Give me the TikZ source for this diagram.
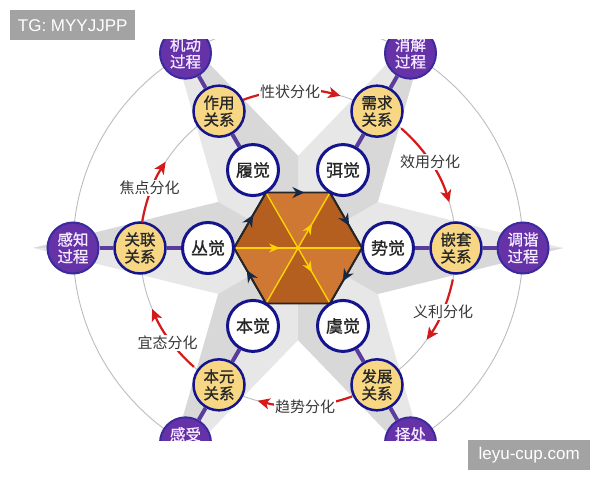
\documentclass[tikz,border=0pt]{standalone}
\usepackage{fontspec}
\setmainfont{Liberation Sans}
\newfontfamily\cjk{Noto Sans CJK SC}
\newfontfamily\cjkb[FakeBold=1]{Noto Sans CJK SC}
\usetikzlibrary{arrows.meta,calc,decorations.markings}
\definecolor{pfill}{HTML}{6532A8}
\definecolor{pborder}{HTML}{3B2A9E}
\definecolor{ptext}{HTML}{F4EAFF}
\definecolor{yfill}{HTML}{F7D684}
\definecolor{navyb}{HTML}{14148C}
\definecolor{spokec}{HTML}{5A3C9C}
\definecolor{starl}{HTML}{E7E7E7}
\definecolor{stard}{HTML}{D8D8D8}
\definecolor{arcg}{HTML}{BDBDBD}
\definecolor{redc}{HTML}{D41A1A}
\definecolor{hexf}{HTML}{C46A26}
\definecolor{hexd}{HTML}{B45E20}
\definecolor{hexl}{HTML}{CF7834}
\definecolor{ylc}{HTML}{FFD200}
\definecolor{arrn}{HTML}{152848}
\definecolor{wmgray}{HTML}{A3A3A3}
\definecolor{labc}{HTML}{383838}
\begin{document}
\begin{tikzpicture}[x=1pt,y=1pt,
  ringnode/.style={circle,minimum size=51pt,inner sep=0pt,align=center},
  pnode/.style={ringnode,fill=pfill,draw=pborder,line width=2pt,text=ptext,font=\cjkb\fontsize{15.5}{17}\selectfont},
  ynode/.style={ringnode,fill=yfill,draw=navyb,line width=2.5pt,text=black!85,font=\cjkb\fontsize{15.5}{17}\selectfont},
  wnode/.style={ringnode,fill=white,draw=navyb,line width=3pt,text=black!85,font=\cjkb\fontsize{17}{17}\selectfont},
  spoke/.style={draw=spokec,line width=4pt},
  thinarc/.style={draw=arcg,line width=0.9pt},
  redarr/.style={draw=redc,line width=2.2pt,-{Stealth[length=12pt,width=11pt,inset=3pt]}},
  arclabel/.style={fill=white,inner sep=1pt,text=labc,font=\cjk\fontsize{15}{15}\selectfont},
  hexedge/.style={draw=black!85,line width=1.8pt},
  yline/.style={draw=ylc,line width=1.4pt},
  ymark/.style={postaction={decorate},decoration={markings,mark=at position #1 with {\arrow{Stealth[length=11pt,width=9pt,color=ylc]}}}},
  emark/.style={postaction={decorate},decoration={markings,mark=at position 0.6 with {\arrow{Stealth[length=12pt,width=11pt,color=arrn]}}}},
  wmbox/.style={fill=wmgray,text=white,inner sep=0pt,font=\fontsize{17}{17}\selectfont}
]
\useasboundingbox (0,0) rectangle (600,480);
\fill[white] (0,0) rectangle (600,480);
\coordinate (C) at (298,232);
\begin{scope}
\clip (0,40) rectangle (600,440);
% star
\fill[starl] ($(C)+(0:265)$) -- ($(C)+(30:92)$) -- ($(C)+(60:265)$) -- ($(C)+(90:92)$) -- ($(C)+(120:265)$) -- ($(C)+(150:92)$) -- ($(C)+(180:265)$) -- ($(C)+(210:92)$) -- ($(C)+(240:265)$) -- ($(C)+(270:92)$) -- ($(C)+(300:265)$) -- ($(C)+(330:92)$) -- cycle;
\foreach \a in {0,60,...,300} \fill[stard] (C) -- ($(C)+(\a:265)$) -- ($(C)+(\a-30:92)$) -- cycle;
% circles
\draw[thinarc] (C) circle[radius=225];
\draw[thinarc] (C) circle[radius=158];
% hexagon
\foreach \k in {0,...,5} \coordinate (h\k) at ($(C)+(60*\k:64)$);
\fill[hexf] (h0)--(h1)--(h2)--(h3)--(h4)--(h5)--cycle;
\fill[hexd] (C)--(h0)--(h1)--cycle;
\fill[hexl] (C)--(h1)--(h2)--cycle;
\fill[hexd] (C)--(h2)--(h3)--cycle;
\fill[hexl] (C)--(h3)--(h4)--cycle;
\fill[hexd] (C)--(h4)--(h5)--cycle;
\fill[hexl] (C)--(h5)--(h0)--cycle;
\draw[yline,ymark=0.36] (h3) -- (h0);
\draw[yline,ymark=0.72] (h4) -- (h1);
\draw[yline,ymark=0.72] (h2) -- (h5);
\draw[hexedge] (h0)--(h1)--(h2)--(h3)--(h4)--(h5)--cycle;
\draw[hexedge,emark] (h2) -- (h1);
\draw[hexedge,emark] (h1) -- (h0);
\draw[hexedge,emark] (h0) -- (h5);
\draw[hexedge,emark] (h4) -- (h3);
\draw[hexedge,emark] (h3) -- (h2);
% nodes and spokes
\foreach \a/\n/\wt/\yt/\pp in {120/a/履觉/作用\\关系/机动\\过程, 60/b/弭觉/需求\\关系/消解\\过程, 0/c/势觉/嵌套\\关系/调谐\\过程, 300/d/虞觉/发展\\关系/择处\\过程, 240/e/本觉/本元\\关系/感受\\过程, 180/f/丛觉/关联\\关系/感知\\过程}{
  \node[wnode] (W\n) at ($(C)+(\a:90)$) {\wt};
  \node[ynode] (Y\n) at ($(C)+(\a:158)$) {\yt};
  \node[pnode] (P\n) at ($(C)+(\a:225)$) {\pp};
  \draw[spoke] (P\n) -- (Y\n) -- (W\n);
}
% red arrows
\coordinate (s1) at ($(C)+(170.7:158)$);
\coordinate (s2) at ($(C)+(110.4:158)$);
\coordinate (s3) at ($(C)+(49.2:158)$);
\coordinate (s4) at ($(C)+(-11.5:158)$);
\coordinate (s5) at ($(C)+(-70:158)$);
\coordinate (s6) at ($(C)+(228.8:158)$);
\draw[redarr] (s1) arc[start angle=170.7,end angle=146.9,radius=158];
\draw[redarr] (s2) arc[start angle=110.4,end angle=74.4,radius=158];
\draw[redarr] (s3) arc[start angle=49.2,end angle=16.8,radius=158];
\draw[redarr] (s4) arc[start angle=-11.5,end angle=-35.5,radius=158];
\draw[redarr] (s5) arc[start angle=-70,end angle=-104.8,radius=158];
\draw[redarr] (s6) arc[start angle=228.8,end angle=202.7,radius=158];
\node[arclabel] (L1) at (149.5,292) {焦点分化};
\node[arclabel] (L2) at (290,388) {性状分化};
\node[arclabel] (L3) at (430,318) {效用分化};
\node[arclabel] (L4) at (443,168) {义利分化};
\node[arclabel] (L5) at (305,73) {趋势分化};
\node[arclabel] (L6) at (167.5,137) {宜态分化};
\end{scope}
% watermarks
\node[wmbox,minimum width=125pt,minimum height=30pt,anchor=north west] (tg) at (10,470) {TG: MYYJJPP};
\node[wmbox,minimum width=122pt,minimum height=30pt,anchor=south west] (ly) at (468,10) {leyu-cup.com};
\end{tikzpicture}
\end{document}
